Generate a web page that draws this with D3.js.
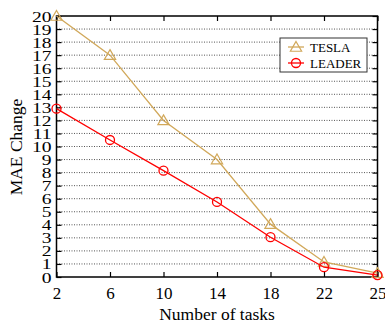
<!DOCTYPE html>
<html>
<head>
<meta charset="utf-8">
<script src="https://d3js.org/d3.v7.min.js"></script>
<style>
  body { margin: 0; background: #fff; }
  text { font-family: "Liberation Serif", "Times New Roman", serif; fill: #000; }
</style>
</head>
<body>
<svg id="chart" width="385" height="325"></svg>
<script>
// Number of tasks (categorical positions along x)
const tasks = ["2", "6", "10", "14", "18", "22", "25"];
// MAE change per method
const tesla = [20, 17, 12, 9, 4.05, 1.15, 0.3];
const leader = [12.9, 10.5, 8.15, 5.75, 3.05, 0.75, 0.15];
const yTicks = d3.range(0, 21);

const series = [
  { name: "TESLA", values: tesla, color: "#d1a85a", marker: "triangle" },
  { name: "LEADER", values: leader, color: "#ff0000", marker: "circle" }
];

const svg = d3.select("#chart");
const m = { left: 56.5, right: 377.5, top: 16, bottom: 277 };

const x = d3.scalePoint().domain(tasks).range([m.left, m.right]);
const y = d3.scaleLinear().domain([0, 20]).range([m.bottom, m.top]);

// dotted horizontal grid
svg.append("g").selectAll("line").data(yTicks.filter(d => d > 0 && d < 20)).join("line")
  .attr("x1", m.left).attr("x2", m.right)
  .attr("y1", d => y(d)).attr("y2", d => y(d))
  .attr("stroke", "#555").attr("stroke-width", 1)
  .attr("stroke-dasharray", "1,1.5");

// left axis with labels (wide, short digits so 21 labels fit the height)
const sx = 1.4;
const yAxis = svg.append("g").attr("transform", `translate(${m.left},0)`)
  .call(d3.axisLeft(y).tickValues(yTicks).tickSize(-5).tickFormat(d3.format("d")));
yAxis.select(".domain").remove();
yAxis.selectAll("text")
  .attr("font-size", 14)
  .attr("x", -5 / sx)
  .attr("dy", "0.36em")
  .attr("transform", `scale(${sx},1)`);
// right axis ticks
const yAxisR = svg.append("g").attr("transform", `translate(${m.right},0)`)
  .call(d3.axisRight(y).tickValues(yTicks).tickSize(-5).tickFormat(""));
yAxisR.select(".domain").remove();

// bottom axis
const xAxis = svg.append("g").attr("transform", `translate(0,${m.bottom})`)
  .call(d3.axisBottom(x).tickSize(-5).tickPadding(10));
xAxis.select(".domain").remove();
xAxis.selectAll("text").attr("font-size", 17);
// top axis ticks
const xAxisT = svg.append("g").attr("transform", `translate(0,${m.top})`)
  .call(d3.axisTop(x).tickSize(-5).tickFormat(""));
xAxisT.select(".domain").remove();

svg.selectAll(".tick line").attr("stroke", "#000").attr("stroke-width", 1.2);

// frame
svg.append("rect").attr("x", m.left).attr("y", m.top)
  .attr("width", m.right - m.left).attr("height", m.bottom - m.top)
  .attr("fill", "none").attr("stroke", "#000").attr("stroke-width", 1.5);

const tri = d3.symbol().type(d3.symbolTriangle).size(55);
function drawMarker(g, s, cx, cy) {
  if (s.marker === "triangle") {
    g.append("path").attr("d", tri()).attr("transform", `translate(${cx},${cy + 1})`)
      .attr("fill", "none").attr("stroke", s.color).attr("stroke-width", 1.2);
  } else {
    g.append("circle").attr("cx", cx).attr("cy", cy).attr("r", 4.5)
      .attr("fill", "none").attr("stroke", s.color).attr("stroke-width", 1.3);
  }
}

const line = d3.line().x((d, i) => x(tasks[i])).y(d => y(d));
series.forEach(s => {
  svg.append("path").datum(s.values).attr("d", line)
    .attr("fill", "none").attr("stroke", s.color).attr("stroke-width", 1.3);
  const g = svg.append("g");
  s.values.forEach((v, i) => drawMarker(g, s, x(tasks[i]), y(v)));
});

// legend
const lg = svg.append("g");
lg.append("rect").attr("x", 280).attr("y", 38).attr("width", 87).attr("height", 34)
  .attr("fill", "#fff").attr("stroke", "#333").attr("stroke-width", 1);
series.forEach((s, i) => {
  const ly = 47 + i * 16;
  lg.append("line").attr("x1", 288).attr("x2", 304).attr("y1", ly).attr("y2", ly)
    .attr("stroke", s.color).attr("stroke-width", 1.3);
  drawMarker(lg, s, 296, ly);
  lg.append("text").attr("x", 310).attr("y", ly).attr("dy", "0.35em")
    .attr("font-size", 13).text(s.name);
});

// axis titles
svg.append("text").attr("x", 217).attr("y", 320)
  .attr("text-anchor", "middle").attr("font-size", 17.5).text("Number of tasks");
svg.append("text").attr("transform", `translate(22,147) rotate(-90)`)
  .attr("text-anchor", "middle").attr("font-size", 17.5).text("MAE Change");
</script>
</body>
</html>
